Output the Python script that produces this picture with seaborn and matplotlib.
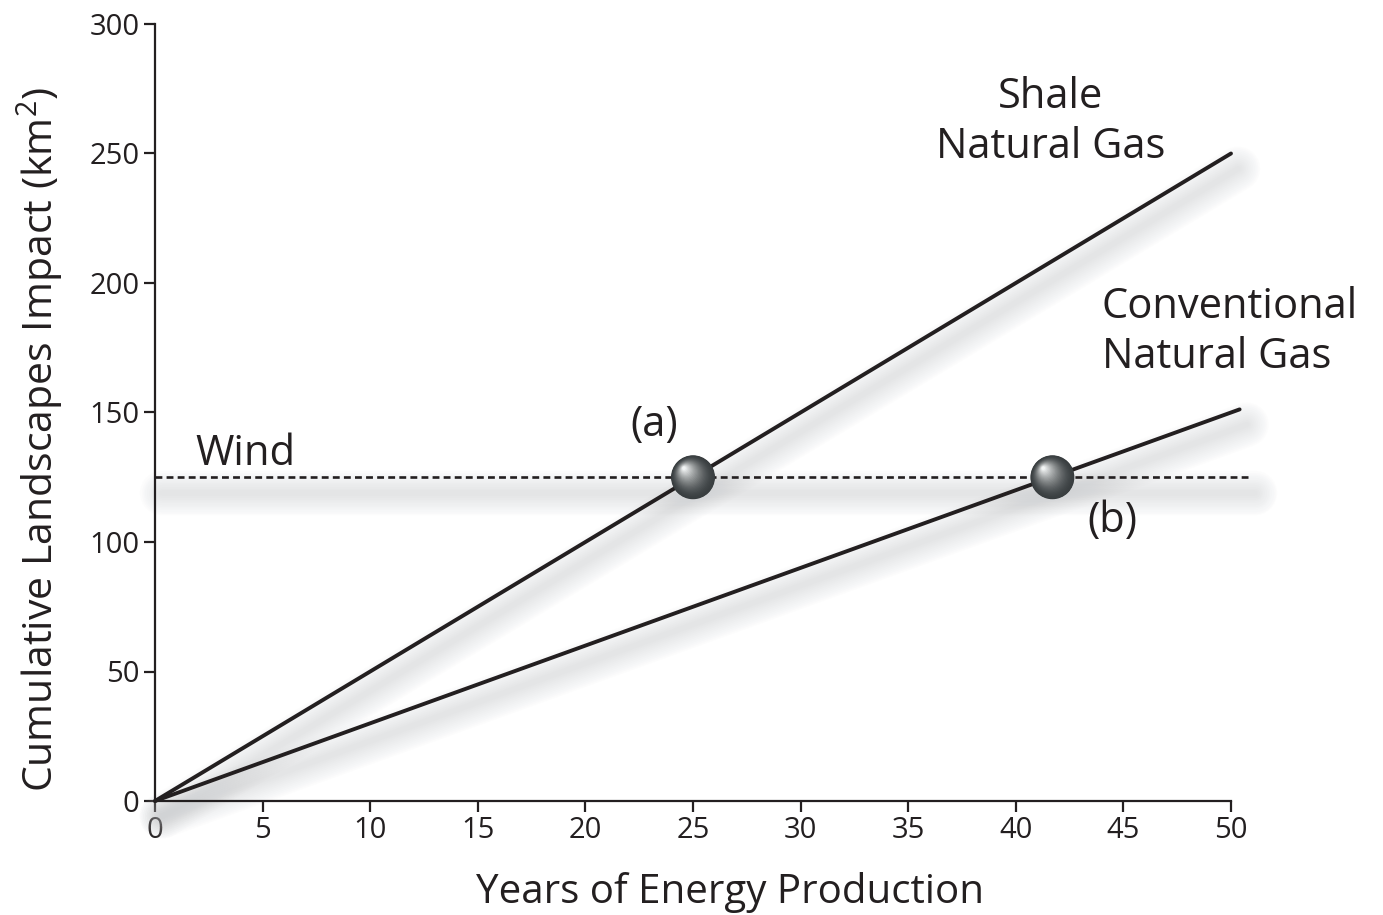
import numpy as np
import pandas as pd
import seaborn as sns
import matplotlib.pyplot as plt
from matplotlib.transforms import ScaledTranslation
from matplotlib.colors import to_rgb

# data
shale_years = [0, 50]
shale_impact = [0, 250]
conv_years = [0, 50.4]
conv_impact = [0, 151.2]
wind_years = [0, 50.8]
wind_impact = [125, 125]
cross_years = [25, 41.7]      # (a) shale meets wind, (b) conventional meets wind
cross_impact = [125, 125]
x_ticks = [0, 5, 10, 15, 20, 25, 30, 35, 40, 45, 50]
y_ticks = [0, 50, 100, 150, 200, 250, 300]

sns.set_style("ticks")
plt.rcParams['font.family'] = ['Open Sans', 'DejaVu Sans']
plt.rcParams['mathtext.fontset'] = 'custom'
plt.rcParams['mathtext.rm'] = 'Open Sans'
plt.rcParams['mathtext.it'] = 'Open Sans'

ink = "#231f20"
fig = plt.figure(figsize=(13.83, 9.15), dpi=100)
ax = fig.add_axes([155 / 1383, 1 - 801 / 915, (1231 - 155) / 1383, (801 - 24) / 915])

shale = pd.DataFrame({"year": shale_years, "impact": shale_impact})
conv = pd.DataFrame({"year": conv_years, "impact": conv_impact})
wind = pd.DataFrame({"year": wind_years, "impact": wind_impact})

# soft drop shadows under the lines
shadow = ax.transData + ScaledTranslation(5 / 72, -11 / 72, fig.dpi_scale_trans)
for df in (shale, conv, wind):
    for w in np.linspace(32, 4, 12):
        ax.plot(df["year"], df["impact"], color="#b8babd", lw=w, alpha=0.03,
                solid_capstyle="round", transform=shadow, clip_on=False, zorder=1)

sns.lineplot(data=shale, x="year", y="impact", ax=ax, color=ink, lw=2.8, zorder=3, clip_on=False)
sns.lineplot(data=conv, x="year", y="impact", ax=ax, color=ink, lw=2.8, zorder=3, clip_on=False)
sns.lineplot(data=wind, x="year", y="impact", ax=ax, color=ink, lw=1.9, zorder=3,
             linestyle=(0, (2.6, 1.6)), clip_on=False)

# shaded spheres at the crossing points
sns.scatterplot(x=cross_years, y=cross_impact, ax=ax, s=1000, color="#33383a",
                edgecolor="none", zorder=5, clip_on=False)
dark = np.array(to_rgb("#3a3f41"))
light = np.array(to_rgb("#f2f4f4"))
n = 24
for i in range(n):
    t = i / (n - 1)
    d = 31 * (1 - 0.92 * t)              # diameter in points
    c = dark + (light - dark) * t ** 1.6
    off = 6.5 * t
    tr = ax.transData + ScaledTranslation(-off / 72, off / 72, fig.dpi_scale_trans)
    ax.scatter(cross_years, cross_impact, s=d ** 2, color=c, edgecolor="none", zorder=6,
               transform=tr, clip_on=False)

ax.set_xlim(0, 50)
ax.set_ylim(0, 300)
ax.set_xticks(x_ticks)
ax.set_yticks(y_ticks)
sns.despine(ax=ax)
for side in ("left", "bottom"):
    ax.spines[side].set_linewidth(1.6)
    ax.spines[side].set_color(ink)
ax.tick_params(axis="both", length=8, width=1.6, color=ink, labelsize=21,
               labelcolor=ink, pad=3)

ax.set_xlabel("Years of Energy Production", fontsize=29, color=ink)
ax.set_ylabel("Cumulative Landscapes Impact (km$^2$)", fontsize=29.5, color=ink)
ax.xaxis.set_label_coords(0.534, -0.092)
ax.yaxis.set_label_coords(-0.083, 0.465)

ax.text(41.6, 262, "Shale\nNatural Gas", fontsize=30, color=ink, ha="center", va="center",
        linespacing=1.25)
ax.text(44.0, 181, "Conventional\nNatural Gas", fontsize=30, color=ink, ha="left",
        va="center", linespacing=1.25)
ax.text(1.9, 134, "Wind", fontsize=30, color=ink, ha="left", va="center")
ax.text(23.2, 145, "(a)", fontsize=30, color=ink, ha="center", va="center")
ax.text(44.5, 108, "(b)", fontsize=30, color=ink, ha="center", va="center")

fig.savefig("out.png", dpi=100)
